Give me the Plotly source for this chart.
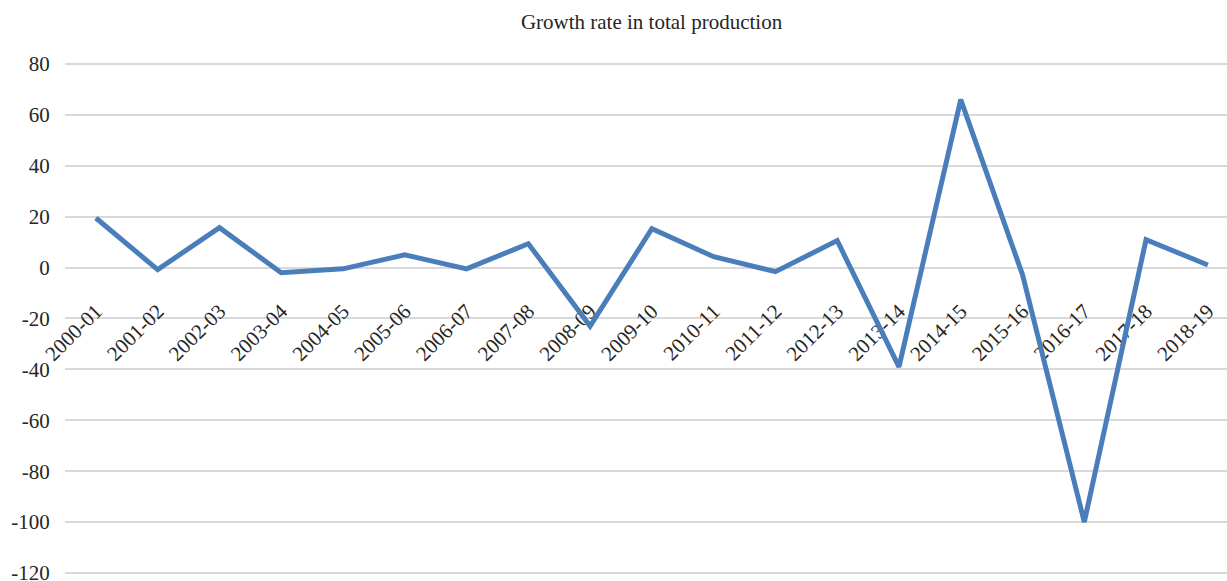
import plotly.graph_objects as go

years = ["2000-01", "2001-02", "2002-03", "2003-04", "2004-05", "2005-06", "2006-07",
         "2007-08", "2008-09", "2009-10", "2010-11", "2011-12", "2012-13", "2013-14",
         "2014-15", "2015-16", "2016-17", "2017-18", "2018-19"]
growth = [19.5, -0.8, 15.7, -2.0, -0.5, 5.0, -0.5, 9.4, -23.0, 15.3, 4.3, -1.6, 10.6,
          -39.0, 66.0, -2.8, -100.0, 11.0, 1.0]
y_ticks = [80, 60, 40, 20, 0, -20, -40, -60, -80, -100, -120]
y_tick_text = ["80", "60", "40", "20", "0", "-20", "-40", "-60", "-80", "-100", "-120"]

FONT = "Liberation Serif"
Y_RANGE = [-121.2, 80.8]

fig = go.Figure()
fig.add_trace(go.Scatter(
    x=list(range(len(years))), y=growth, mode="lines",
    line=dict(color="#4a7ebb", width=5), hoverinfo="skip", showlegend=False,
))

zero_pos = (0 - Y_RANGE[0]) / (Y_RANGE[1] - Y_RANGE[0])

fig.update_layout(
    width=1227, height=581,
    margin=dict(l=65, r=0, t=62, b=5, autoexpand=False),
    paper_bgcolor="white", plot_bgcolor="white",
    font=dict(family=FONT, size=21, color="#262626"),
    title=dict(text="Growth rate in total production", x=0.531, xanchor="center",
               y=1 - 22 / 581, yanchor="middle", yref="container",
               font=dict(family=FONT, size=21, color="#262626")),
    xaxis=dict(
        tickmode="array", tickvals=list(range(len(years))), ticktext=years,
        tickangle=-45, range=[-0.5, 18.31], showgrid=False, zeroline=False,
        showline=False, anchor="free", position=zero_pos, layer="below traces",
        ticks="outside", ticklen=20, tickcolor="rgba(0,0,0,0)",
        ticklabelstandoff=2, automargin=False,
        tickfont=dict(family=FONT, size=21, color="#262626"),
    ),
    yaxis=dict(
        range=Y_RANGE, tickmode="array", tickvals=y_ticks, ticktext=y_tick_text,
        showgrid=True, gridcolor="#d9d9d9",
        gridwidth=1.5, zeroline=False, showline=False,
        ticks="outside", ticklen=10, tickcolor="rgba(0,0,0,0)",
        ticklabeloverflow="allow", automargin=False,
        tickfont=dict(family=FONT, size=21, color="#262626"),
    ),
)

fig.write_html("out.html")
